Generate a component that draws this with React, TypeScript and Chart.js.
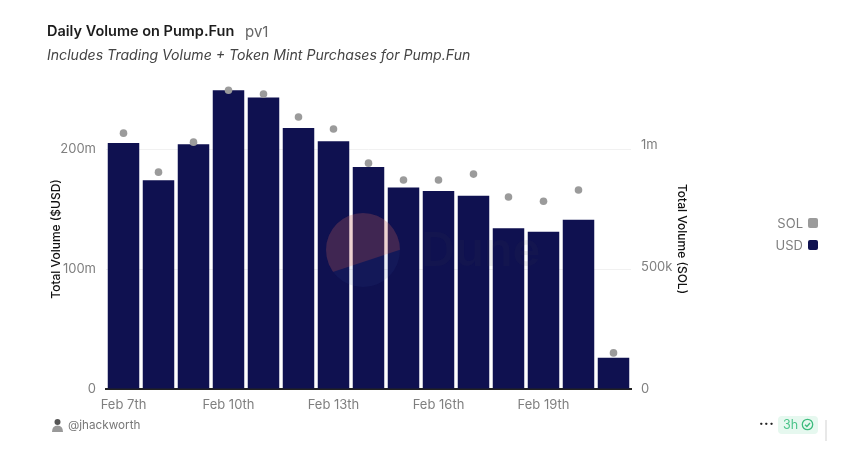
import React, { useEffect, useRef } from 'react';
import { Chart, registerables } from 'chart.js';

Chart.register(...registerables);

const FONT = 'Inter, "Noto Sans", sans-serif';

const days = [
  'Feb 7th', 'Feb 8th', 'Feb 9th', 'Feb 10th', 'Feb 11th', 'Feb 12th', 'Feb 13th', 'Feb 14th',
  'Feb 15th', 'Feb 16th', 'Feb 17th', 'Feb 18th', 'Feb 19th', 'Feb 20th', 'Feb 21st',
];
const usdVolume = [205, 174, 204, 249, 243, 217.5, 206.5, 185, 168, 165, 161, 134, 131, 141, 26].map((v) => v * 1e6);
const solVolume = [1049, 889, 1012, 1225, 1209, 1115, 1066, 926, 857, 857, 881, 787, 770, 816, 148].map((v) => v * 1e3);
const usdTicks = [0, 100e6, 200e6];
const solTicks = [0, 500e3, 1e6];

const fmt = (v: number) => (v === 0 ? '0' : v >= 1e6 ? `${v / 1e6}m` : `${v / 1e3}k`);

// faint Dune logo over the plot
const watermark = {
  id: 'watermark',
  afterDraw(chart: any) {
    const { ctx } = chart;
    const cx = 363;
    const cy = 250;
    const r = 37;
    ctx.save();
    ctx.beginPath();
    ctx.arc(cx, cy, r, 0, Math.PI * 2);
    ctx.clip();
    ctx.fillStyle = 'rgba(62, 90, 170, 0.1)';
    ctx.fillRect(cx - r, cy - r, r * 2, r * 2);
    ctx.beginPath();
    ctx.moveTo(cx - r - 2, cy + 25);
    ctx.lineTo(cx + r + 2, cy - 1);
    ctx.lineTo(cx + r + 2, cy - r - 2);
    ctx.lineTo(cx - r - 2, cy - r - 2);
    ctx.closePath();
    ctx.fillStyle = 'rgba(244, 96, 62, 0.2)';
    ctx.fill();
    ctx.restore();
    ctx.save();
    ctx.font = `600 47px ${FONT}`;
    ctx.fillStyle = 'rgba(70, 70, 80, 0.09)';
    ctx.textBaseline = 'middle';
    ctx.fillText('Dune', 421, 252);
    ctx.restore();
  },
};

const text = (style: React.CSSProperties, children: React.ReactNode) => (
  <div style={{ position: 'absolute', whiteSpace: 'nowrap', fontFamily: FONT, ...style }}>{children}</div>
);

export default function App() {
  const canvasRef = useRef<HTMLCanvasElement>(null);

  useEffect(() => {
    const el = canvasRef.current;
    if (!el) return;
    const chart = new Chart(el, {
      type: 'bar',
      data: {
        labels: days,
        datasets: [
          {
            type: 'line',
            label: 'SOL',
            data: solVolume,
            yAxisID: 'y1',
            showLine: false,
            pointRadius: 3.8,
            pointBackgroundColor: '#9b9b9b',
            pointBorderWidth: 0,
            clip: false,
            order: 0,
          } as any,
          {
            type: 'bar',
            label: 'USD',
            data: usdVolume,
            yAxisID: 'y',
            backgroundColor: '#0f1150',
            barPercentage: 0.9,
            categoryPercentage: 1,
            order: 1,
          },
        ],
      },
      plugins: [watermark],
      options: {
        responsive: false,
        animation: false,
        layout: { padding: { left: 49, right: 170, top: 89, bottom: 50 } },
        plugins: { legend: { display: false }, tooltip: { enabled: false } },
        scales: {
          x: {
            grid: { display: false, drawTicks: false },
            border: { color: '#222', width: 2 },
            ticks: {
              autoSkip: false,
              maxRotation: 0,
              padding: 8,
              color: '#7f7f7f',
              font: { family: FONT, size: 13 },
              callback: (_v: any, i: number) => (i % 3 === 0 ? days[i] : ''),
            },
            afterFit: (s: any) => { s.height = 26; },
          },
          y: {
            min: 0,
            max: 250e6,
            position: 'left',
            afterBuildTicks: (s: any) => { s.ticks = usdTicks.map((value) => ({ value })); },
            grid: { color: '#f1f1f1', drawTicks: false },
            border: { display: false },
            ticks: {
              padding: 10,
              color: '#7f7f7f',
              font: { family: FONT, size: 13 },
              callback: (v: any) => fmt(Number(v)),
            },
            title: {
              display: true,
              text: 'Total Volume ($USD)',
              color: '#111',
              padding: 0,
              font: { family: FONT, size: 12, weight: 500 },
            },
            afterFit: (s: any) => { s.width = 57; },
          },
          y1: {
            min: 0,
            max: 1230e3,
            position: 'right',
            afterBuildTicks: (s: any) => { s.ticks = solTicks.map((value) => ({ value })); },
            grid: { display: false, drawTicks: false },
            border: { display: false },
            ticks: {
              padding: 10,
              color: '#7f7f7f',
              font: { family: FONT, size: 13 },
              callback: (v: any) => fmt(Number(v)),
            },
            title: {
              display: true,
              text: 'Total Volume (SOL)',
              color: '#111',
              padding: 0,
              font: { family: FONT, size: 12, weight: 500 },
            },
            afterFit: (s: any) => { s.width = 58; },
          },
        },
      },
    });
    return () => chart.destroy();
  }, []);

  return (
    <div style={{ position: 'absolute', left: 0, top: 0, width: 859, height: 465, background: '#fff', overflow: 'hidden' }}>
      <canvas ref={canvasRef} width={859} height={465} style={{ position: 'absolute', left: 0, top: 0 }} />
      {text({ left: 47, top: 22, fontSize: 14.5, fontWeight: 600, color: '#1c1c1c' }, 'Daily Volume on Pump.Fun')}
      {text({ left: 245, top: 22, fontSize: 15, color: '#666' }, 'pv1')}
      {text({ left: 47, top: 46, fontSize: 14.1, fontStyle: 'italic', color: '#444' }, 'Includes Trading Volume + Token Mint Purchases for Pump.Fun')}

      {text({ right: 56, top: 215, fontSize: 13, color: '#7f7f7f' }, 'SOL')}
      <div style={{ position: 'absolute', left: 808, top: 218, width: 10, height: 10, borderRadius: 2, background: '#9b9b9b' }} />
      {text({ right: 56, top: 237, fontSize: 13, color: '#7f7f7f' }, 'USD')}
      <div style={{ position: 'absolute', left: 808, top: 240, width: 10, height: 10, borderRadius: 2, background: '#0f1150' }} />

      <svg style={{ position: 'absolute', left: 51, top: 418 }} width={13} height={14} viewBox="0 0 13 14">
        <circle cx="6.5" cy="4" r="3" fill="#555" />
        <path d="M1 14 Q1 7.5 6.5 7.5 Q12 7.5 12 14 Z" fill="#999" />
      </svg>
      {text({ left: 68, top: 418, fontSize: 11.7, color: '#777' }, '@jhackworth')}

      {text({ left: 759, top: 415, fontSize: 13, fontWeight: 800, color: '#222', letterSpacing: 0.5 }, '···')}
      <div style={{ position: 'absolute', left: 778, top: 416, width: 40, height: 18, borderRadius: 4, background: '#e6f8ef' }} />
      {text({ left: 783, top: 417, fontSize: 12.5, color: '#4cc48a' }, '3h')}
      <svg style={{ position: 'absolute', left: 801, top: 418 }} width={13} height={13} viewBox="0 0 13 13">
        <circle cx="6.5" cy="6.5" r="5.2" fill="none" stroke="#3dbb7d" strokeWidth="1.3" />
        <path d="M4 6.7 L5.9 8.5 L9 5" fill="none" stroke="#3dbb7d" strokeWidth="1.3" />
      </svg>
      <div style={{ position: 'absolute', left: 825, top: 420, width: 2, height: 21, background: '#e8e8e8' }} />
    </div>
  );
}
